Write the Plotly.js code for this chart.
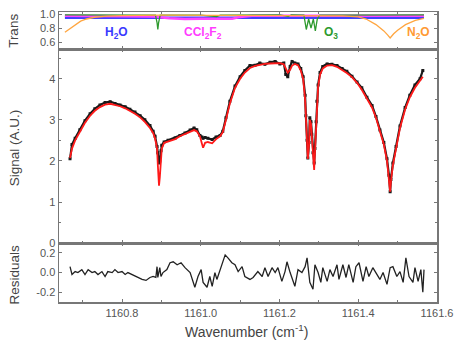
<!DOCTYPE html>
<html><head><meta charset="utf-8">
<script src="https://cdn.plot.ly/plotly-3.0.1.min.js"></script>
<style>html,body{margin:0;padding:0;background:#fff}#c{width:460px;height:344px}</style>
</head><body><div id="c"></div>
<script>
// Main signal panel: wavenumber grid, fit (red) and measured data (black)
const sigWn = [1160.668,1160.673,1160.681,1160.693,1160.706,1160.719,1160.731,1160.744,1160.757,1160.770,1160.782,1160.795,1160.808,1160.820,1160.833,1160.846,1160.858,1160.871,1160.879,1160.884,1160.889,1160.891,1160.894,1160.896,1160.899,1160.901,1160.907,1160.917,1160.935,1160.947,1160.960,1160.973,1160.983,1160.990,1160.998,1161.003,1161.006,1161.011,1161.018,1161.029,1161.039,1161.049,1161.056,1161.064,1161.074,1161.087,1161.100,1161.112,1161.125,1161.138,1161.150,1161.163,1161.176,1161.189,1161.201,1161.211,1161.216,1161.221,1161.227,1161.232,1161.239,1161.247,1161.254,1161.260,1161.265,1161.267,1161.270,1161.272,1161.275,1161.277,1161.280,1161.282,1161.285,1161.288,1161.290,1161.293,1161.295,1161.298,1161.303,1161.310,1161.321,1161.333,1161.346,1161.359,1161.371,1161.384,1161.397,1161.409,1161.422,1161.435,1161.445,1161.455,1161.465,1161.473,1161.478,1161.481,1161.483,1161.488,1161.496,1161.506,1161.519,1161.531,1161.544,1161.557,1161.564];
const fitSig = [2.07,2.3,2.5,2.72,2.93,3.1,3.22,3.31,3.37,3.39,3.37,3.33,3.28,3.22,3.15,3.06,2.95,2.8,2.68,2.55,2.3,1.9,1.4,1.6,2.1,2.3,2.44,2.47,2.53,2.6,2.65,2.7,2.75,2.72,2.6,2.42,2.32,2.44,2.46,2.43,2.53,2.6,2.7,3.0,3.4,3.78,4.0,4.15,4.26,4.31,4.34,4.36,4.37,4.38,4.38,4.35,4.25,4.15,4.22,4.32,4.36,4.33,4.2,4.0,3.5,3.0,2.4,2.05,2.4,3.0,2.9,2.6,2.1,1.78,2.2,2.9,3.4,3.8,4.1,4.25,4.32,4.33,4.29,4.22,4.14,4.04,3.9,3.73,3.5,3.3,3.05,2.7,2.4,2.0,1.6,1.25,1.5,1.9,2.3,2.8,3.25,3.55,3.78,3.97,4.05];
const dataSig = [2.05,2.4,2.55,2.76,2.98,3.15,3.27,3.36,3.42,3.44,3.4,3.36,3.32,3.26,3.19,3.1,3.0,2.86,2.72,2.6,2.35,2.2,1.95,2.0,2.25,2.38,2.46,2.5,2.56,2.62,2.68,2.75,2.8,2.76,2.62,2.58,2.55,2.57,2.55,2.52,2.58,2.62,2.72,3.05,3.45,3.82,4.05,4.2,4.32,4.33,4.38,4.35,4.4,4.42,4.36,4.38,4.1,4.05,4.3,4.42,4.38,4.36,4.25,4.05,3.6,3.1,2.5,2.07,2.45,3.05,2.95,2.65,2.2,1.95,2.3,2.95,3.45,3.85,4.15,4.3,4.36,4.35,4.32,4.25,4.18,4.06,3.92,3.78,3.55,3.35,3.08,2.75,2.45,2.05,1.65,1.25,1.55,1.95,2.35,2.85,3.3,3.6,3.85,4.0,4.2];

// Residuals panel
const resWn = [1160.668,1160.673,1160.681,1160.688,1160.698,1160.706,1160.714,1160.724,1160.731,1160.739,1160.749,1160.757,1160.764,1160.775,1160.782,1160.790,1160.800,1160.808,1160.815,1160.825,1160.833,1160.841,1160.851,1160.861,1160.871,1160.879,1160.886,1160.889,1160.891,1160.896,1160.899,1160.904,1160.914,1160.922,1160.930,1160.940,1160.950,1160.960,1160.973,1160.985,1160.993,1161.001,1161.006,1161.016,1161.023,1161.029,1161.036,1161.041,1161.054,1161.062,1161.069,1161.079,1161.087,1161.095,1161.105,1161.112,1161.125,1161.133,1161.145,1161.156,1161.163,1161.171,1161.181,1161.189,1161.196,1161.206,1161.214,1161.219,1161.227,1161.239,1161.247,1161.257,1161.265,1161.270,1161.277,1161.285,1161.290,1161.298,1161.305,1161.310,1161.321,1161.328,1161.336,1161.346,1161.351,1161.361,1161.369,1161.376,1161.387,1161.394,1161.402,1161.412,1161.420,1161.427,1161.437,1161.445,1161.455,1161.463,1161.473,1161.481,1161.488,1161.498,1161.506,1161.514,1161.521,1161.529,1161.539,1161.544,1161.552,1161.559,1161.564,1161.567];
const resVal = [0.06,-0.02,0.01,0,0.03,-0.02,0.03,0,0.01,-0.02,0.01,-0.04,0.01,0,0.03,0,0.01,-0.02,0,-0.02,-0.04,-0.05,-0.07,-0.08,-0.05,-0.04,-0.05,0.06,-0.05,0.05,-0.04,0,0.03,0.1,0.11,0.08,0.1,0.05,0.0,-0.15,-0.04,0.03,-0.1,-0.15,-0.04,-0.14,0,-0.07,0.1,0.18,0.15,0.1,0.08,0.01,0.06,-0.04,-0.07,-0.05,0.01,-0.04,0.05,-0.04,0.05,0,0.05,-0.09,0.01,0.11,0,-0.14,0.03,0,0.06,0.15,-0.1,-0.17,0.08,0,-0.1,0.05,-0.09,0.03,-0.04,0.08,-0.07,0.08,-0.05,0.08,-0.1,0.06,0.1,-0.09,0.06,-0.04,0.05,0,-0.07,0,-0.12,0.05,0.06,-0.04,0.01,-0.1,0.15,-0.04,-0.1,0.05,-0.09,0.03,-0.2,0.03];

// Transmission panel
const h2oWn = [1160.655,1160.80,1160.894,1161.00,1161.20,1161.40,1161.567];
const h2oT  = [0.948,0.948,0.944,0.948,0.948,0.948,0.948];
const cclWn = [1160.655,1160.85,1160.88,1160.92,1160.96,1161.00,1161.04,1161.08,1161.10,1161.13,1161.30,1161.567];
const cclT  = [0.975,0.975,0.965,0.94,0.93,0.935,0.93,0.935,0.96,0.975,0.975,0.975];
const o3Wn = [1160.655,1160.885,1160.889,1160.891,1160.893,1160.897,1161.00,1161.03,1161.04,1161.05,1161.20,1161.215,1161.222,1161.23,1161.262,1161.268,1161.274,1161.280,1161.286,1161.291,1161.296,1161.302,1161.567];
const o3T  = [0.99,0.985,0.88,0.78,0.88,0.985,0.985,0.975,0.965,0.985,0.99,0.975,0.965,0.99,0.985,0.78,0.93,0.8,0.93,0.76,0.93,0.985,0.99];
const n2oWn = [1160.655,1160.665,1160.675,1160.685,1160.695,1160.71,1160.73,1160.76,1160.80,1160.90,1161.00,1161.10,1161.20,1161.30,1161.36,1161.40,1161.42,1161.445,1161.465,1161.475,1161.481,1161.49,1161.50,1161.52,1161.545,1161.567];
const n2oT  = [0.74,0.78,0.83,0.87,0.9,0.93,0.955,0.97,0.978,0.985,0.985,0.985,0.985,0.985,0.975,0.96,0.93,0.85,0.76,0.7,0.66,0.72,0.77,0.85,0.91,0.94];

// Ticks and labels
const xTickVals = [1160.8,1161.0,1161.2,1161.4,1161.6];
const xTickText = ['1160.8','1161.0','1161.2','1161.4','1161.6'];
const xMinor = [1160.7,1160.9,1161.1,1161.3,1161.5];
const sigTickVals = [0,1,2,3,4];
const sigTickText = ['0','1','2','3','4'];
const sigMinor = [0.5,1.5,2.5,3.5,4.5];
const resTickVals = [-0.2,0,0.2];
const resTickText = ['-0.2','0.0','0.2'];
const trTickVals = [0.6,0.8,1.0];
const trTickText = ['0.6','0.8','1.0'];

const species = [
  {t:'<b>H<sub>2</sub>O</b>', x:1160.787, c:'#3a3aff'},
  {t:'<b>CCl<sub>2</sub>F<sub>2</sub></b>', x:1161.006, c:'#ff3cff'},
  {t:'<b>O<sub>3</sub></b>', x:1161.332, c:'#2e9a2e'},
  {t:'<b>N<sub>2</sub>O</b>', x:1161.552, c:'#ff9a33'}
];

const traces = [
  {x:h2oWn, y:h2oT, xaxis:'x3', yaxis:'y3', mode:'lines', line:{color:'#4040ff', width:2.5}},
  {x:cclWn, y:cclT, xaxis:'x3', yaxis:'y3', mode:'lines', line:{color:'#ff44ff', width:2.5}},
  {x:o3Wn, y:o3T, xaxis:'x3', yaxis:'y3', mode:'lines', line:{color:'#2e9a2e', width:1.3}},
  {x:n2oWn, y:n2oT, xaxis:'x3', yaxis:'y3', mode:'lines', line:{color:'#ffa640', width:1.3}},
  {x:sigWn, y:dataSig, xaxis:'x2', yaxis:'y2', mode:'lines+markers', line:{color:'#1a1a1a', width:2.2}, marker:{color:'#1a1a1a', size:3, symbol:'square'}},
  {x:sigWn, y:fitSig, xaxis:'x2', yaxis:'y2', mode:'lines', line:{color:'#ff1a1a', width:1.8}},
  {x:resWn, y:resVal, xaxis:'x', yaxis:'y', mode:'lines', line:{color:'#222', width:1.3}}
];

const axCommon = {showline:true, linecolor:'#777', linewidth:1.5, mirror:'ticks', ticks:'inside', ticklen:3, tickcolor:'#777', showgrid:false, zeroline:false, tickfont:{size:11, color:'#555'}};
const xCommon = Object.assign({}, axCommon, {range:[1160.64,1161.6], tickvals:xTickVals, ticktext:xTickText, minor:{tickvals:xMinor, ticks:'inside', ticklen:2, tickcolor:'#777'}});

const ann = species.map(s => ({text:s.t, x:s.x, y:0.73, xref:'x3', yref:'y3', showarrow:false, font:{size:12, color:s.c, family:'Liberation Sans, Arial, sans-serif'}, xanchor:'center', yanchor:'middle'}));
const ytitle = (t, y) => ({text:t, x:-0.119, y:y, xref:'paper', yref:'paper', showarrow:false, textangle:-90, font:{size:13.5, color:'#444'}, xanchor:'center', yanchor:'middle'});
ann.push(ytitle('Trans', 0.935));
ann.push(ytitle('Signal (A.U.)', 0.53));
ann.push(ytitle('Residuals', 0.095));
ann.push({text:'Wavenumber (cm<sup>-1</sup>)', x:0.497, y:-0.1, xref:'paper', yref:'paper', showarrow:false, font:{size:14, color:'#444'}, xanchor:'center', yanchor:'middle'});

const layout = {
  width:460, height:344, margin:{l:59, r:23, t:12, b:42},
  paper_bgcolor:'#fff', plot_bgcolor:'#fff', showlegend:false,
  font:{family:'Liberation Sans, Arial, sans-serif', color:'#444'},
  xaxis: Object.assign({}, xCommon, {anchor:'y'}),
  xaxis2: Object.assign({}, xCommon, {anchor:'y2', matches:'x', showticklabels:false}),
  xaxis3: Object.assign({}, xCommon, {anchor:'y3', matches:'x', showticklabels:false}),
  yaxis: Object.assign({}, axCommon, {domain:[0,0.203], range:[-0.3,0.3], tickvals:resTickVals, ticktext:resTickText}),
  yaxis2: Object.assign({}, axCommon, {domain:[0.203,0.872], range:[0,4.72], tickvals:sigTickVals, ticktext:sigTickText, minor:{tickvals:sigMinor, ticks:'inside', ticklen:2, tickcolor:'#777'}}),
  yaxis3: Object.assign({}, axCommon, {domain:[0.872,1], range:[0.5,1.03], tickvals:trTickVals, ticktext:trTickText}),
  annotations: ann
};
Plotly.newPlot('c', traces, layout, {staticPlot:true, displayModeBar:false});
</script></body></html>
